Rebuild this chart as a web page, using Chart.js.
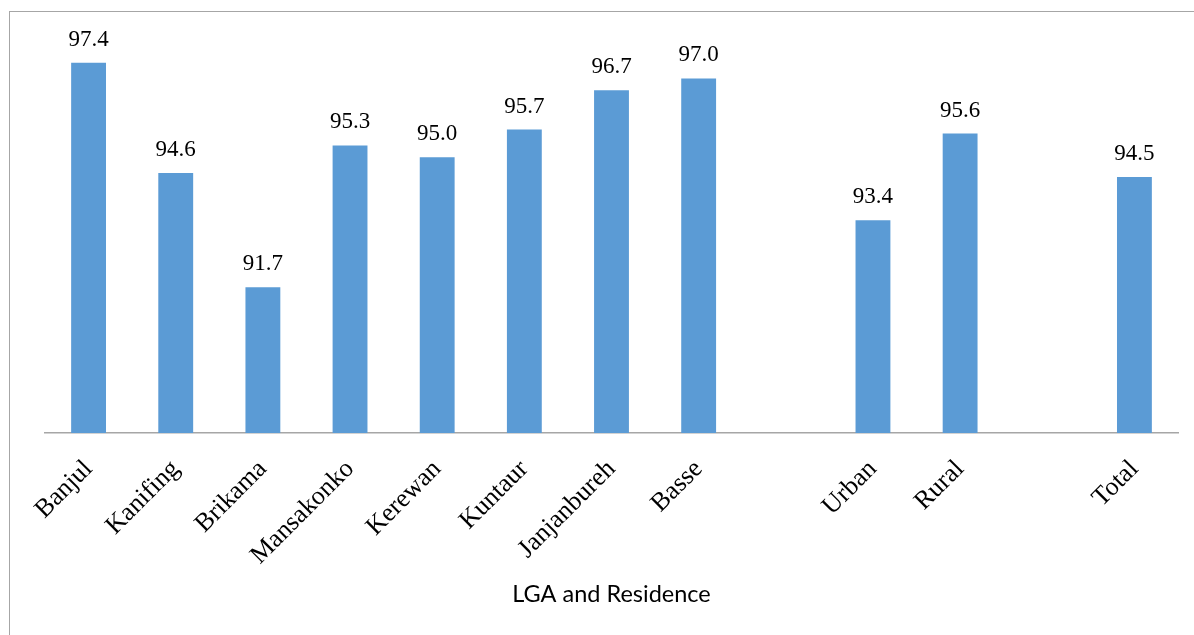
<!DOCTYPE html>
<html>
<head>
<meta charset="utf-8">
<script src="https://cdn.jsdelivr.net/npm/chart.js@4/dist/chart.umd.min.js"></script>
<style>
  html, body { margin: 0; padding: 0; background: #fff; }
  #wrap { position: relative; width: 1194px; height: 635px; overflow: hidden; }
  #frame { position: absolute; left: 9px; top: 11px; width: 1300px; height: 700px; border: 1.5px solid #a6a6a6; box-sizing: border-box; pointer-events: none; }
  canvas { position: absolute; left: 0; top: 0; }
</style>
</head>
<body>
<div id="wrap">
  <canvas id="c" width="1194" height="635"></canvas>
  <div id="frame"></div>
</div>
<script>
const categories = ["Banjul", "Kanifing", "Brikama", "Mansakonko", "Kerewan", "Kuntaur", "Janjanbureh", "Basse", "", "Urban", "Rural", "", "Total"];
const values = [97.4, 94.6, 91.7, 95.3, 95.0, 95.7, 96.7, 97.0, null, 93.4, 95.6, null, 94.5];
const axisTitle = "LGA and Residence";
const yMin = 88;
const yMax = 98;

const labelPlugin = {
  id: 'barLabels',
  afterDatasetsDraw(chart) {
    const ctx = chart.ctx;
    const meta = chart.getDatasetMeta(0);
    ctx.save();
    ctx.font = '23px "Liberation Serif", "Times New Roman", serif';
    ctx.fillStyle = '#000';
    ctx.textAlign = 'center';
    ctx.textBaseline = 'alphabetic';
    meta.data.forEach((bar, i) => {
      const v = values[i];
      if (v === null || v === undefined) return;
      ctx.fillText(v.toFixed(1), bar.x, bar.y - 17);
    });
    ctx.restore();
  }
};

new Chart(document.getElementById('c'), {
  type: 'bar',
  data: {
    labels: categories,
    datasets: [{
      data: values,
      backgroundColor: '#5b9bd5',
      barPercentage: 1,
      categoryPercentage: 0.4
    }]
  },
  options: {
    responsive: false,
    animation: false,
    devicePixelRatio: 1,
    layout: { padding: { left: 45, right: 16, top: 39, bottom: 0 } },
    plugins: { legend: { display: false }, tooltip: { enabled: false }, title: { display: false } },
    scales: {
      y: { display: false, min: yMin, max: yMax },
      x: {
        grid: { display: false, drawTicks: false },
        border: { display: true, color: '#a6a6a6', width: 1.5 },
        ticks: {
          color: '#000',
          font: { family: '"Liberation Serif", "Times New Roman", serif', size: 26 },
          maxRotation: 45,
          minRotation: 45,
          autoSkip: false,
          padding: 21
        },
        title: {
          display: true,
          text: axisTitle,
          color: '#000',
          font: { family: 'Lato, "Open Sans", sans-serif', size: 23.5 },
          padding: { top: 0, bottom: 26 }
        },
        afterFit(scale) {
          scale.height = 202;
          scale.paddingLeft = 0;
          scale.paddingRight = 0;
        }
      }
    }
  },
  plugins: [labelPlugin]
});
</script>
</body>
</html>
